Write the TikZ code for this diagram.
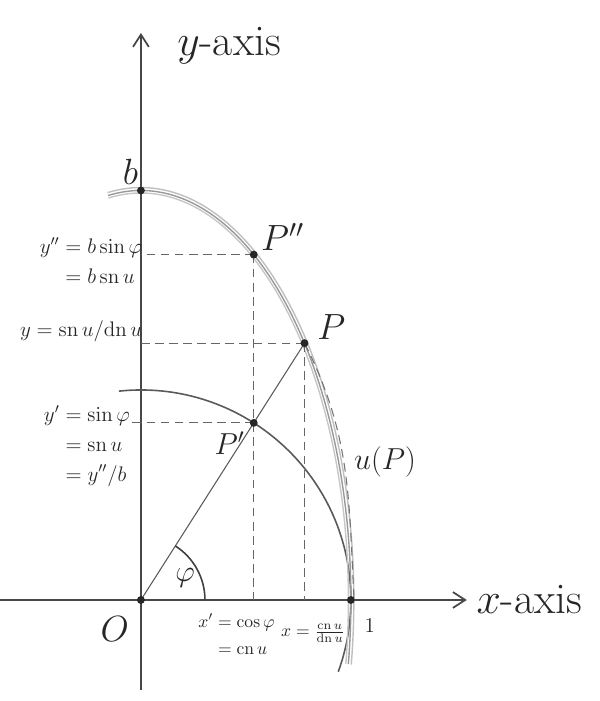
\documentclass[tikz,border=0pt]{standalone}
\usepackage{amsmath}
\usepackage{amssymb}
\usepackage{tikz}
\usetikzlibrary{arrows.meta,positioning}

\tikzset{
  axis/.style={draw=black!72,line width=1pt,-{Straight Barb[length=7pt,width=9pt]}},
  guide/.style={draw=black!60,line width=0.6pt,dash pattern=on 5pt off 3pt},
  sketch/.style={line width=0.8pt},
  dot/.style={circle,fill=black!85,inner sep=0pt,minimum size=4.5pt},
  lbl/.style={text=black!85,font=\large},
  smalllbl/.style={text=black!85,font=\normalsize,inner sep=1pt},
  biglbl/.style={text=black!85,font=\LARGE},
  hugelbl/.style={text=black!85,font=\huge},
}

\begin{document}
\begin{tikzpicture}[x=4.2cm,y=4.2cm]
  \useasboundingbox (-0.671,-0.481) rectangle (2.186,2.857);
  \pgfmathsetmacro\bsemi{1.95}
  \def\ang{57.5}
  \def\rad{1.45}
  % axes
  \coordinate (O) at (0,0);
  \coordinate (xs) at (-0.671,0);
  \coordinate (xe) at (1.552,0);
  \coordinate (ys) at (0,-0.429);
  \coordinate (ye) at (0,2.7);
  \draw[axis] (xs) -- (xe);
  \draw[axis] (ys) -- (ye);
  \node[hugelbl,font=\Huge,right=2pt of xe] (xlab) {$x$-axis};
  \node[hugelbl,font=\Huge] (ylab) at (0.42,2.64) {$y$-axis};
  % unit circle and ellipse (several pencil strokes)
  \draw[draw=black!65,line width=0.9pt] (96:1) arc[start angle=96,end angle=-20,radius=1];
  \foreach \dd/\tone in {0/40,0.014/25,-0.012/22}
    \draw[sketch,draw=black!\tone] ({(1+\dd)*cos(99)},{(\bsemi+\dd)*sin(99)})
      arc[start angle=99,end angle=-9,x radius=1+\dd,y radius=\bsemi+\dd];
  % points
  \coordinate (Pp) at (\ang:1);
  \coordinate (Ppp) at ({cos(\ang)},{\bsemi*sin(\ang)});
  \coordinate (P) at (\ang:\rad);
  \coordinate (uend) at (1.015,0);
  \draw[black!65,line width=0.6pt] (O) -- (P);
  \draw[guide] (Ppp) -- (Ppp |- O);
  \draw[guide] (P) -- (P |- O);
  \draw[guide] (Ppp) -- (Ppp -| O);
  \draw[guide] (P) -- (P -| O);
  \draw[guide] (Pp) -- (Pp -| O) -- ++(-5pt,0);
  \draw[guide,draw=black!55] (P) to[out=-63,in=93] (uend);
  \draw[black!75,line width=0.9pt] (0.305,0) arc[start angle=0,end angle=\ang,radius=0.305];
  \node[dot] (bpt) at (0,\bsemi) {};
  \node[dot] (OPt) at (O) {};
  \node[dot] (onePt) at (1,0) {};
  \node[dot] (PpPt) at (Pp) {};
  \node[dot] (PppPt) at (Ppp) {};
  \node[dot] (PPt) at (P) {};
  % labels
  \node[hugelbl] (blab) at (-0.05,2.04) {$b$};
  \node[hugelbl,above right=-3pt and -1pt of PppPt] (Ppplab) {$P''$};
  \node[hugelbl,above right=-3pt and 2pt of PPt] (Plab) {$P$};
  \node[biglbl,below left=0pt and 0pt of PpPt] (Pplab) {$P'$};
  \node[biglbl] (ulab) at (1.162,0.657) {$u(P)$};
  \node[biglbl] (philab) at (0.21,0.105) {$\varphi$};
  \node[hugelbl] (Olab) at (-0.124,-0.14) {$O$};
  \node[lbl] (onelab) at (1.09,-0.124) {$1$};
  \node[lbl] (ypplab) at (-0.238,1.60)
    {$\begin{aligned} y''&=b\sin\varphi\\ &=b\,\mathrm{sn}\,u\end{aligned}$};
  \node[lbl] (ylab2) at (-0.285,1.28) {$y=\mathrm{sn}\,u/\mathrm{dn}\,u$};
  \node[lbl] (yplab) at (-0.257,0.729)
    {$\begin{aligned} y'&=\sin\varphi\\ &=\mathrm{sn}\,u\\ &=y''/b\end{aligned}$};
  \node[smalllbl] (xplab) at (0.455,-0.175)
    {$\begin{aligned} x'&=\cos\varphi\\ &=\mathrm{cn}\,u\end{aligned}$};
  \node[smalllbl] (xlab2) at (0.82,-0.16) {$x=\frac{\mathrm{cn}\,u}{\mathrm{dn}\,u}$};
\end{tikzpicture}
\end{document}
